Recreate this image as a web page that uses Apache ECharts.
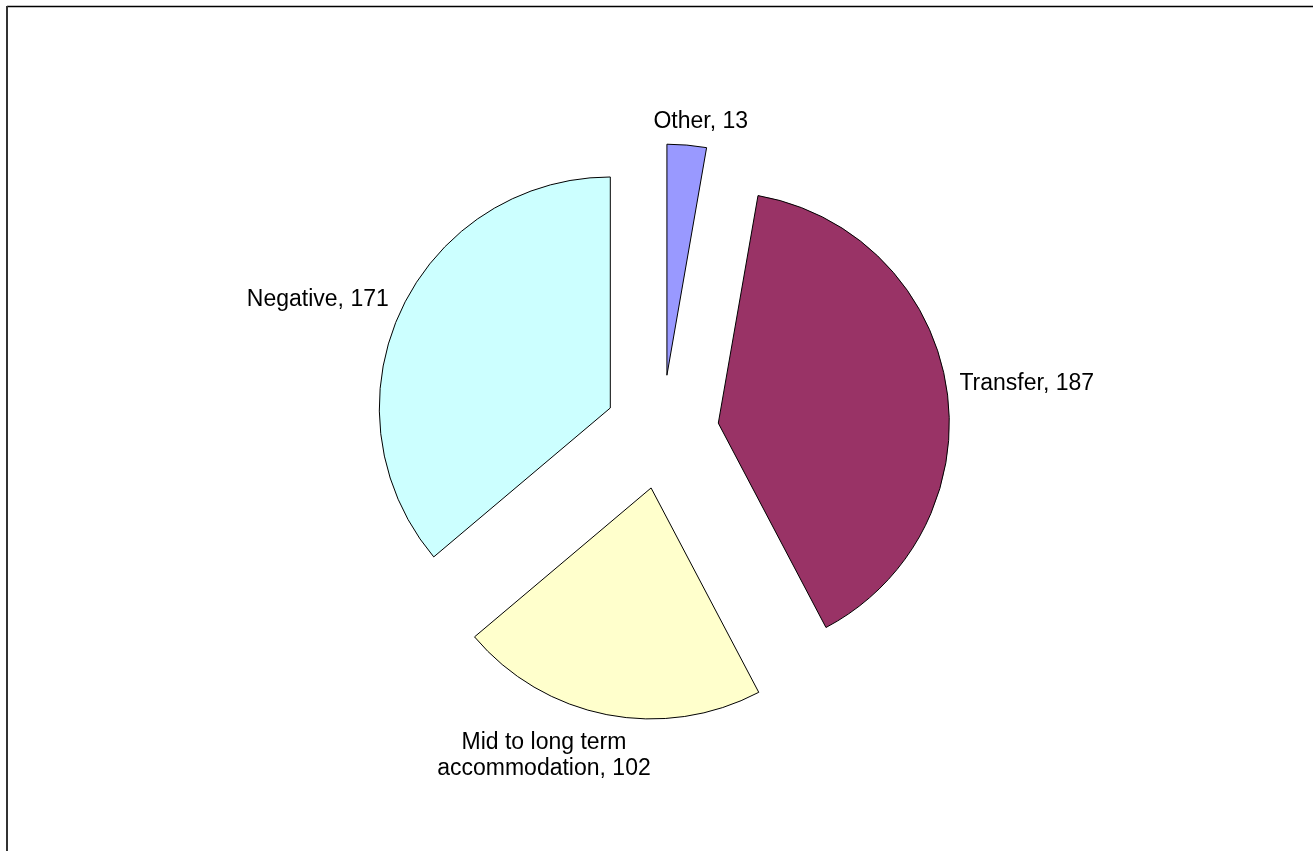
<!DOCTYPE html>
<html>
<head>
<meta charset="utf-8">
<script src="https://cdn.jsdelivr.net/npm/echarts@6/dist/echarts.min.js"></script>
<style>
html,body{margin:0;padding:0;background:#fff;}
#chart{width:1313px;height:851px;}
</style>
</head>
<body>
<div id="chart"></div>
<script>
const categories = ['Other', 'Transfer', 'Mid to long term\naccommodation', 'Negative'];
const values = [13, 187, 102, 171];
const colors = ['#9999FF', '#993366', '#FFFFCC', '#CCFFFF'];

const chart = echarts.init(document.getElementById('chart'), null, {renderer: 'canvas'});
const data = categories.map((c, i) => ({
  name: c,
  value: values[i],
  selected: true,
  itemStyle: {color: colors[i]}
}));

// label alignment tweaks (Excel-style placement)
const labelTweaks = [
  {align: 'center', dx: 8, dy: -13},
  {dx: -2, dy: -2},
  {align: 'center', dx: -56, dy: 31},
  {dx: 2, dy: -7}
];

chart.setOption({
  animation: false,
  backgroundColor: '#ffffff',
  graphic: [
    {type: 'line', shape: {x1: 7, y1: 6.5, x2: 1313, y2: 6.5}, style: {stroke: '#000', lineWidth: 1.5}},
    {type: 'line', shape: {x1: 7, y1: 6, x2: 7, y2: 851}, style: {stroke: '#333', lineWidth: 2}}
  ],
  series: [{
    type: 'pie',
    center: [662, 432],
    radius: 231,
    startAngle: 90,
    clockwise: true,
    selectedMode: 'multiple',
    selectedOffset: 57,
    avoidLabelOverlap: false,
    itemStyle: {borderColor: '#000', borderWidth: 1},
    emphasis: {disabled: true},
    label: {
      show: true,
      position: 'outside',
      formatter: p => p.name + ', ' + p.value,
      fontFamily: 'Liberation Sans, Arial, sans-serif',
      fontSize: 23,
      color: '#000',
      lineHeight: 26
    },
    labelLine: {show: false, length: 10, length2: 0},
    labelLayout: p => labelTweaks[p.dataIndex],
    data: data
  }]
});
</script>
</body>
</html>
